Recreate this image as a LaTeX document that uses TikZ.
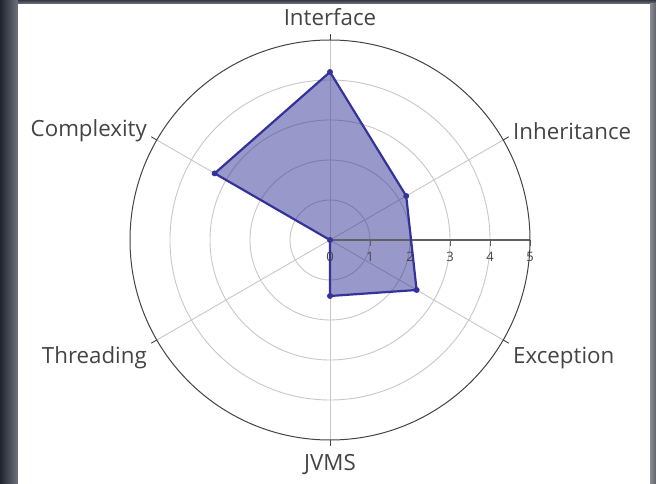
\documentclass[tikz,border=0pt]{standalone}
\usepackage{fontspec}
\setmainfont{Open Sans}
\definecolor{txt}{HTML}{444444}
\definecolor{grid}{HTML}{C8C8C8}
\definecolor{outer}{HTML}{444444}
\definecolor{series}{HTML}{333399}
\definecolor{darkbg}{HTML}{1E2430}
\definecolor{edgegray}{HTML}{8A8D95}
\tikzset{
  gridcircle/.style={draw=grid, line width=0.9pt},
  spoke/.style={draw=grid, line width=0.9pt},
  axislabel/.style={text=txt, font=\fontsize{22.3}{26}\selectfont, inner sep=0pt},
  ticklabel/.style={text=txt, font=\fontsize{13}{15}\selectfont, inner sep=0pt},
  datadot/.style={circle, fill=series, inner sep=0pt, minimum size=6pt},
}
\begin{document}
\begin{tikzpicture}[x=40pt,y=40pt]
\useasboundingbox (-8.25,-6.1) rectangle (8.15,6);
% frame background
\fill[darkbg] (-8.25,-6.1) rectangle (8.15,6);
\shade[left color=darkbg, right color=edgegray!75!darkbg] (-8.25,-6.1) rectangle (-7.8,6);
\shade[top color=darkbg!80!edgegray, bottom color=edgegray!80!darkbg] (-7.8,5.9) rectangle (8.15,6);
\shade[left color=edgegray, right color=edgegray!70!black] (8.0,-6.1) rectangle (8.15,5.9);
\fill[white] (-7.8,-6.1) rectangle (8.0,5.9);
% grid circles
\foreach \r in {1,2,3,4} \draw[gridcircle] (0,0) circle (\r);
% spokes
\foreach \a in {30,90,150,210,270,330} {
  \draw[spoke] (0,0) -- (\a:5);
  \draw[outer, line width=0.9pt] (\a:5) -- (\a:5.16);
}
% data
\coordinate (O) at (0,0);
\coordinate (pInt) at (90:4.2);
\coordinate (pInh) at (30:2.2);
\coordinate (pExc) at (-30:2.5);
\coordinate (pJvm) at (-90:1.4);
\coordinate (pThr) at (210:0);
\coordinate (pCom) at (150:3.33);
\fill[series, fill opacity=0.5] (pInt) -- (pInh) -- (pExc) -- (pJvm) -- (pThr) -- (pCom) -- cycle;
% radial axis
\draw[outer!85!white, line width=1.1pt] (0,0) -- (5,0);
\foreach \i in {1,...,5} \draw[outer!85!white, line width=0.9pt] (\i,0) -- (\i,-0.14);
\foreach \i in {0,...,5} \node[ticklabel] (t\i) at (\i,-0.43) {\i};
% outer circle
\draw[outer, line width=1pt] (0,0) circle (5);
% series outline
\draw[series, line width=2.2pt, line join=round] (pInt) -- (pInh) -- (pExc) -- (pJvm) -- (pThr) -- (pCom) -- cycle;
\foreach \p in {pInt,pInh,pExc,pJvm,pThr,pCom} \node[datadot] at (\p) {};
% axis labels
\node[axislabel] (lInt) at (0,5.575) {Interface};
\node[axislabel, anchor=west] (lInh) at (4.575,2.725) {Inheritance};
\node[axislabel, anchor=east] (lCom) at (-4.575,2.725) {Complexity};
\node[axislabel, anchor=west] (lExc) at (4.575,-2.95) {Exception};
\node[axislabel, anchor=east] (lThr) at (-4.575,-2.95) {Threading};
\node[axislabel] (lJvm) at (0,-5.625) {JVMS};
\end{tikzpicture}
\end{document}
